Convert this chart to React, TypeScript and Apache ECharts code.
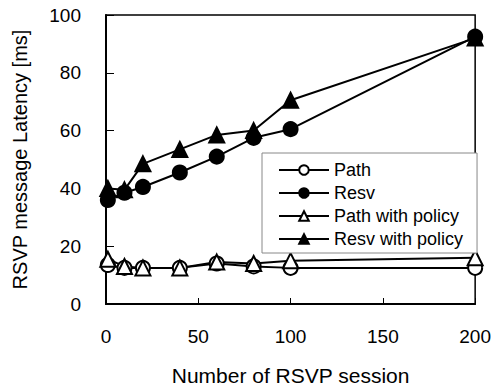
import React, { useEffect, useRef } from "react";
import * as echarts from "echarts";

const sessions = [1, 10, 20, 40, 60, 80, 100, 200];
const pathValues = [13.5, 12.5, 12.5, 12.5, 14, 13, 12.5, 12.5];
const resvValues = [36, 38.5, 40.5, 45.5, 51, 57.5, 60.5, 92.5];
const pathPolicyValues = [15.5, 13, 12.5, 12.5, 14.5, 14, 15, 16];
const resvPolicyValues = [40, 39.5, 48.5, 53.5, 58.5, 60, 70.5, 92];
const seriesNames = ["Path", "Resv", "Path with policy", "Resv with policy"];
const xTicks = { min: 0, max: 200, interval: 50 };
const yTicks = { min: 0, max: 100, interval: 20 };

const FONT = "'Liberation Sans', Arial, sans-serif";

export default function App() {
  const ref = useRef<HTMLDivElement>(null);
  useEffect(() => {
    if (!ref.current) return;
    const chart = echarts.init(ref.current, null, { renderer: "svg" });
    const pair = (vals: number[]) => sessions.map((x, i) => [x, vals[i]]);
    const mk = (name: string, vals: number[], symbol: string, filled: boolean) => ({
      name,
      type: "line",
      data: pair(vals),
      symbol,
      symbolSize: symbol === "triangle" ? 15 : 14,
      lineStyle: { color: "#000", width: 2 },
      itemStyle: { color: filled ? "#000" : "#fff", borderColor: "#000", borderWidth: 2 },
      emphasis: { disabled: true },
    });
    chart.setOption({
      animation: false,
      textStyle: { fontFamily: FONT },
      grid: {
        left: 106,
        right: 15,
        top: 15,
        bottom: 86,
        show: true,
        borderColor: "#000",
        borderWidth: 1.5,
      },
      xAxis: {
        type: "value",
        ...xTicks,
        name: "Number of RSVP session",
        nameLocation: "middle",
        nameGap: 61,
        nameTextStyle: { fontSize: 21, color: "#000", fontFamily: FONT },
        axisLine: { lineStyle: { color: "#000", width: 2 } },
        axisTick: { inside: true, length: 6, lineStyle: { color: "#000", width: 1 } },
        axisLabel: { fontSize: 19, color: "#000", margin: 23, fontFamily: FONT },
        splitLine: { show: false },
      },
      yAxis: {
        type: "value",
        ...yTicks,
        name: "RSVP message Latency [ms]",
        nameLocation: "middle",
        nameGap: 76,
        nameTextStyle: { fontSize: 20, color: "#000", fontFamily: FONT },
        axisLine: { lineStyle: { color: "#000", width: 2 } },
        axisTick: { inside: true, length: 8, lineStyle: { color: "#000", width: 1 } },
        axisLabel: { fontSize: 19, color: "#000", margin: 25, fontFamily: FONT },
        splitLine: { show: false },
      },
      legend: {
        data: seriesNames,
        orient: "vertical",
        left: 262,
        top: 153,
        padding: [8, 14, 5, 16],
        itemWidth: 50,
        itemHeight: 12,
        itemGap: 5,
        backgroundColor: "#fff",
        borderColor: "#888",
        borderWidth: 1,
        textStyle: { fontSize: 18, color: "#000", fontFamily: FONT, padding: [0, 0, 0, 0] },
      },
      series: [
        mk(seriesNames[0], pathValues, "circle", false),
        mk(seriesNames[1], resvValues, "circle", true),
        mk(seriesNames[2], pathPolicyValues, "triangle", false),
        mk(seriesNames[3], resvPolicyValues, "triangle", true),
      ],
    });
    return () => chart.dispose();
  }, []);
  return <div ref={ref} style={{ width: 494, height: 391, position: "absolute", left: 0, top: 0 }} />;
}
